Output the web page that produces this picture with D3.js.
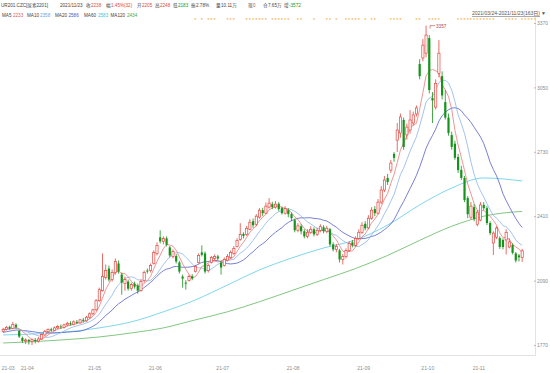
<!DOCTYPE html>
<meta charset="utf-8">
<style>
    body { margin: 0; background: #fff; }
    svg text { font-family: "Liberation Sans", "Noto Sans CJK SC", sans-serif; font-size: 5px; }
    .frame { stroke: #e3e3e3; stroke-width: 1px; fill: none; shape-rendering: crispEdges; }
    .ma { fill: none; stroke-width: 0.8px; }
    .axis text { fill: #8c8c8c; }
    .axis line { stroke: #bbb; }
    .star { fill: #f2a634; font-size: 5.5px; }
    .hdr { font-size: 4.6px; }
</style>
<body>
<div id="chart"></div>
<script src="https://cdn.jsdelivr.net/npm/d3@7/dist/d3.min.js"></script>
<script>
    var width = 550,
        height = 373;

    var plot_right = 535,
        plot_top = 17,
        plot_bottom = 355;

    // daily candles 2021/03/24 - 2021/11/23
    var opens = [1838,1848,1860,1852,1870,1840,1805,1790,1795,1788,1795,1790,1800,1820,1836,1848,1842,1855,1862,1858,
                 1870,1878,1872,1885,1880,1895,1890,1908,1925,1945,1990,2040,2105,2150,2095,2130,2175,2120,2075,2085,
                 2050,2075,2065,2040,2090,2140,2140,2175,2225,2305,2285,2300,2255,2210,2212,2180,2110,2080,2090,2112,
                 2135,2180,2230,2225,2140,2180,2200,2210,2180,2165,2190,2205,2225,2260,2295,2322,2320,2345,2385,2370,
                 2405,2440,2425,2455,2470,2455,2472,2450,2425,2440,2420,2390,2340,2360,2335,2310,2330,2345,2320,2340,
                 2355,2335,2345,2270,2245,2240,2195,2210,2240,2280,2265,2300,2330,2372,2352,2400,2445,2425,2480,2540,
                 2600,2639,2720,2788,2823,2888,2814,2838,2873,2918,3166,3196,3220,3295,2997,2952,3120,3106,2977,2900,
                 2813,2770,2704,2640,2600,2500,2405,2455,2370,2391,2466,2450,2376,2277,2306,2301,2292,2292,2257,2267,
                 2225,2215,2205];
    var highs = [1855,1865,1866,1885,1878,1845,1812,1803,1800,1802,1805,1810,1826,1845,1852,1856,1862,1870,1872,1876,
                 1885,1888,1892,1894,1900,1905,1915,1932,1950,1998,2055,2225,2170,2165,2145,2200,2190,2130,2110,2095,
                 2080,2085,2075,2095,2140,2150,2175,2240,2280,2340,2310,2310,2262,2245,2222,2188,2120,2092,2120,2122,
                 2168,2225,2265,2235,2175,2212,2220,2218,2190,2205,2222,2240,2262,2300,2375,2330,2362,2395,2398,2420,
                 2450,2452,2478,2500,2482,2485,2480,2458,2460,2450,2428,2398,2375,2370,2345,2345,2360,2355,2352,2370,
                 2365,2362,2352,2280,2272,2248,2222,2250,2285,2292,2310,2345,2380,2385,2415,2455,2460,2495,2560,2610,
                 2620,2690,2728,2873,2920,2900,2870,2937,2930,2960,3190,3290,3357,3310,3027,3090,3285,3130,3037,2920,
                 2830,2785,2720,2660,2610,2510,2480,2470,2440,2480,2480,2460,2385,2335,2360,2310,2300,2345,2300,2275,
                 2232,2222,2248];
    var lows = [1832,1842,1845,1848,1850,1805,1780,1775,1772,1770,1778,1782,1795,1815,1830,1835,1838,1848,1850,1852,
                1862,1866,1868,1874,1875,1882,1885,1900,1918,1940,1985,2035,2095,2085,2085,2120,2125,2020,2040,2040,
                2040,2050,2025,2035,2080,2125,2130,2170,2215,2275,2270,2260,2205,2200,2175,2125,2055,2045,2085,2092,
                2130,2175,2210,2125,2130,2175,2190,2192,2120,2160,2185,2198,2218,2255,2288,2300,2312,2340,2352,2360,
                2398,2410,2420,2448,2445,2448,2435,2418,2418,2405,2385,2330,2330,2320,2300,2300,2322,2310,2312,2330,
                2325,2325,2260,2235,2230,2180,2170,2200,2232,2255,2258,2292,2322,2340,2345,2392,2410,2418,2470,2530,
                2565,2625,2680,2729,2800,2740,2790,2820,2860,2905,3090,3180,3200,3020,2873,2940,3100,2990,2890,2810,
                2740,2690,2625,2590,2480,2400,2395,2385,2360,2385,2440,2366,2316,2217,2296,2247,2245,2220,2250,2220,
                2180,2185,2183];
    var closes = [1848,1858,1852,1872,1860,1812,1790,1795,1788,1796,1790,1800,1822,1838,1848,1842,1855,1862,1858,1870,
                  1878,1872,1885,1880,1895,1890,1908,1925,1945,1990,2045,2110,2140,2095,2130,2185,2135,2080,2095,2050,
                  2070,2060,2040,2085,2130,2135,2165,2230,2265,2285,2300,2268,2215,2235,2185,2135,2100,2075,2110,2100,
                  2160,2215,2218,2135,2165,2205,2210,2200,2155,2195,2210,2230,2250,2290,2320,2312,2350,2380,2365,2410,
                  2440,2425,2460,2475,2455,2470,2445,2425,2448,2420,2400,2340,2362,2335,2310,2330,2345,2320,2340,2358,
                  2335,2350,2270,2245,2260,2195,2210,2240,2275,2265,2300,2330,2365,2350,2400,2440,2425,2480,2540,2590,
                  2580,2674,2700,2838,2903,2754,2853,2888,2913,2948,3106,3260,3310,3037,2985,3070,3220,3010,2900,2823,
                  2754,2700,2639,2600,2490,2420,2460,2395,2430,2466,2450,2376,2326,2326,2351,2257,2257,2330,2282,2228,
                  2190,2206,2238];
    // closes before the first visible day, for the short averages
    var pre_closes = [1790,1800,1812,1805,1818,1825,1820,1832,1840,1836,1845,1850,1842,1848,1855,1850,1845,1852,1840];

    // long averages
    var long_ma_idx = [0,10,20,30,40,50,60,70,80,90,100,110,120,130,140,150,162];
    var ma60_vals   = [1820,1825,1835,1855,1885,1935,1994,2068,2143,2202,2252,2292,2366,2466,2550,2600,2585];
    var ma120_vals  = [1780,1787,1797,1810,1830,1855,1895,1935,1985,2040,2095,2150,2215,2290,2360,2410,2434];

    var month_labels = ["21-03","21-04","21-05","21-06","21-07","21-08","21-09","21-10","21-11"];
    var month_idx = [0,6,27,46,67,89,111,131,147];

    var y_ticks = [1770,2090,2410,2730,3050,3370];

    var star_idx = [60,62,64,65,66,70,71,72,76,77,78,79,80,81,82,84,85,86,87,88,89,92,93,97,101,102,104,
                    107,108,109,110,111,113,115,116,121,122,123,124,129,130,133,134,135,136,
                    142,143,144,145,146,147,148,149,150,151,152,153,157,158,159,160,162,163,164,165,166];

    var red = "#e4473f",
        green = "#16931b";

    var svg = d3.select("#chart").append("svg")
        .attr("width", width)
        .attr("height", height);

    var x = d3.scaleLinear().domain([-1, 166]).range([0, plot_right]);
    var y = d3.scaleLinear().domain([1770, 3370]).range([345, 23]);

    var candles = closes.map((c, i) => ({i: i, o: opens[i], h: highs[i], l: lows[i], c: c}));

    function moving_avg(n) {
        var all = pre_closes.concat(closes);
        var off = pre_closes.length;
        return closes.map((c, i) => ({i: i, v: d3.mean(all.slice(off + i - n + 1, off + i + 1))}));
    }

    // frame
    svg.append("path").attr("class", "frame")
        .attr("d", "M0," + plot_bottom + "H" + plot_right + "V" + plot_top);

    // long averages
    var line = d3.line().x(d => x(d.i)).y(d => y(d.v));
    var smooth = d3.line().x(d => x(d.i)).y(d => y(d.v)).curve(d3.curveMonotoneX);

    svg.append("path").attr("class", "ma").attr("stroke", "#5ecbe6")
        .attr("d", smooth(long_ma_idx.map((i, k) => ({i: i, v: ma60_vals[k]}))));
    svg.append("path").attr("class", "ma").attr("stroke", "#62b862")
        .attr("d", smooth(long_ma_idx.map((i, k) => ({i: i, v: ma120_vals[k]}))));

    svg.append("path").attr("class", "ma").attr("stroke", "#5560c8").attr("d", line(moving_avg(20)));
    svg.append("path").attr("class", "ma").attr("stroke", "#8cb4ea").attr("d", line(moving_avg(10)));
    svg.append("path").attr("class", "ma").attr("stroke", "#ea7b7b").attr("d", line(moving_avg(5)));

    // candles
    var bw = 2.2;
    var g = svg.selectAll(".candle").data(candles).enter().append("g").attr("class", "candle");
    g.append("line")
        .attr("x1", d => x(d.i)).attr("x2", d => x(d.i))
        .attr("y1", d => y(d.h)).attr("y2", d => y(d.l))
        .attr("stroke", d => d.c >= d.o ? red : green)
        .attr("stroke-width", 0.8);
    g.append("rect")
        .attr("x", d => x(d.i) - bw / 2)
        .attr("y", d => y(Math.max(d.o, d.c)))
        .attr("width", bw)
        .attr("height", d => Math.max(0.8, Math.abs(y(d.o) - y(d.c))))
        .attr("fill", d => d.c >= d.o ? "#fff" : green)
        .attr("stroke", d => d.c >= d.o ? red : "none")
        .attr("stroke-width", 0.7);

    // peak marker
    var peak = candles[d3.maxIndex(candles, d => d.h)];
    svg.append("path")
        .attr("d", "M" + (x(peak.i) + 4) + "," + (y(peak.h) + 3) + "V" + y(peak.h) + "H" + (x(peak.i) + 9))
        .attr("stroke", "#b44").attr("stroke-width", 0.6).attr("fill", "none");
    svg.append("text")
        .attr("x", x(peak.i) + 10).attr("y", y(peak.h) + 2)
        .attr("fill", "#b44")
        .style("font-size", "4.6px")
        .text(peak.h);

    // stars
    svg.selectAll(".star").data(star_idx).enter().append("text")
        .attr("class", "star")
        .attr("x", d => x(d))
        .attr("y", 22)
        .attr("text-anchor", "middle")
        .text("*");

    // axes
    var y_axis = svg.append("g").attr("class", "axis")
        .attr("transform", "translate(" + (plot_right - 1) + ",0)")
        .call(d3.axisRight(y).tickValues(y_ticks).tickFormat(d3.format("d")).tickSize(2).tickPadding(1));
    y_axis.select(".domain").remove();
    y_axis.selectAll("text").style("font-size", "5px").style("font-family", "Liberation Sans");

    var x_axis = svg.append("g").attr("class", "axis")
        .attr("transform", "translate(0," + plot_bottom + ")")
        .call(d3.axisBottom(x).tickValues(month_idx).tickFormat((d, k) => month_labels[k]).tickSize(0).tickPadding(11));
    x_axis.select(".domain").remove();
    x_axis.selectAll("text")
        .attr("text-anchor", "start")
        .attr("dx", -2)
        .style("font-size", "5px").style("font-family", "Liberation Sans");

    // header
    var gray = "#444";
    var header1 = [
        ["UR201.CZC[尿素2201]", gray, 1], ["2021/11/23", gray, 60],
        ["收", gray, 86], ["2238", red, 91],
        ["幅", gray, 106], ["1.45%(32)", red, 111],
        ["开", gray, 137], ["2205", red, 142],
        ["高", gray, 155], ["2248", red, 160],
        ["低", gray, 173], ["2183", green, 178],
        ["振", gray, 191], ["2.78%", gray, 196],
        ["量", gray, 216], ["10.11万", gray, 221],
        ["现", gray, 248], ["0", red, 253],
        ["仓", gray, 263], ["7.65万", gray, 268],
        ["增", gray, 284], ["-3572", green, 289]
    ];
    var header2 = [
        ["MA5", gray, 2], ["2233", "#e05a5a", 13],
        ["MA10", gray, 27], ["2358", "#6f9fe0", 40],
        ["MA20", gray, 55], ["2586", "#4a55c4", 68.5],
        ["MA60", gray, 84], ["2583", "#3cbde0", 98],
        ["MA120", gray, 110.5], ["2434", "#3ea83e", 127]
    ];
    svg.selectAll(".h1").data(header1).enter().append("text")
        .attr("class", "hdr")
        .attr("x", d => d[2]).attr("y", 7.3).attr("fill", d => d[1]).text(d => d[0]);
    svg.selectAll(".h2").data(header2).enter().append("text")
        .attr("class", "hdr")
        .attr("x", d => d[2]).attr("y", 17).attr("fill", d => d[1]).text(d => d[0]);

    svg.append("text")
        .attr("x", 540).attr("y", 15)
        .attr("text-anchor", "end")
        .attr("fill", "#555")
        .style("text-decoration", "underline")
        .text("2021/03/24-2021/11/23(163日)");
    svg.append("text")
        .attr("x", 541).attr("y", 15)
        .attr("fill", "#555")
        .text("▼");
</script>
